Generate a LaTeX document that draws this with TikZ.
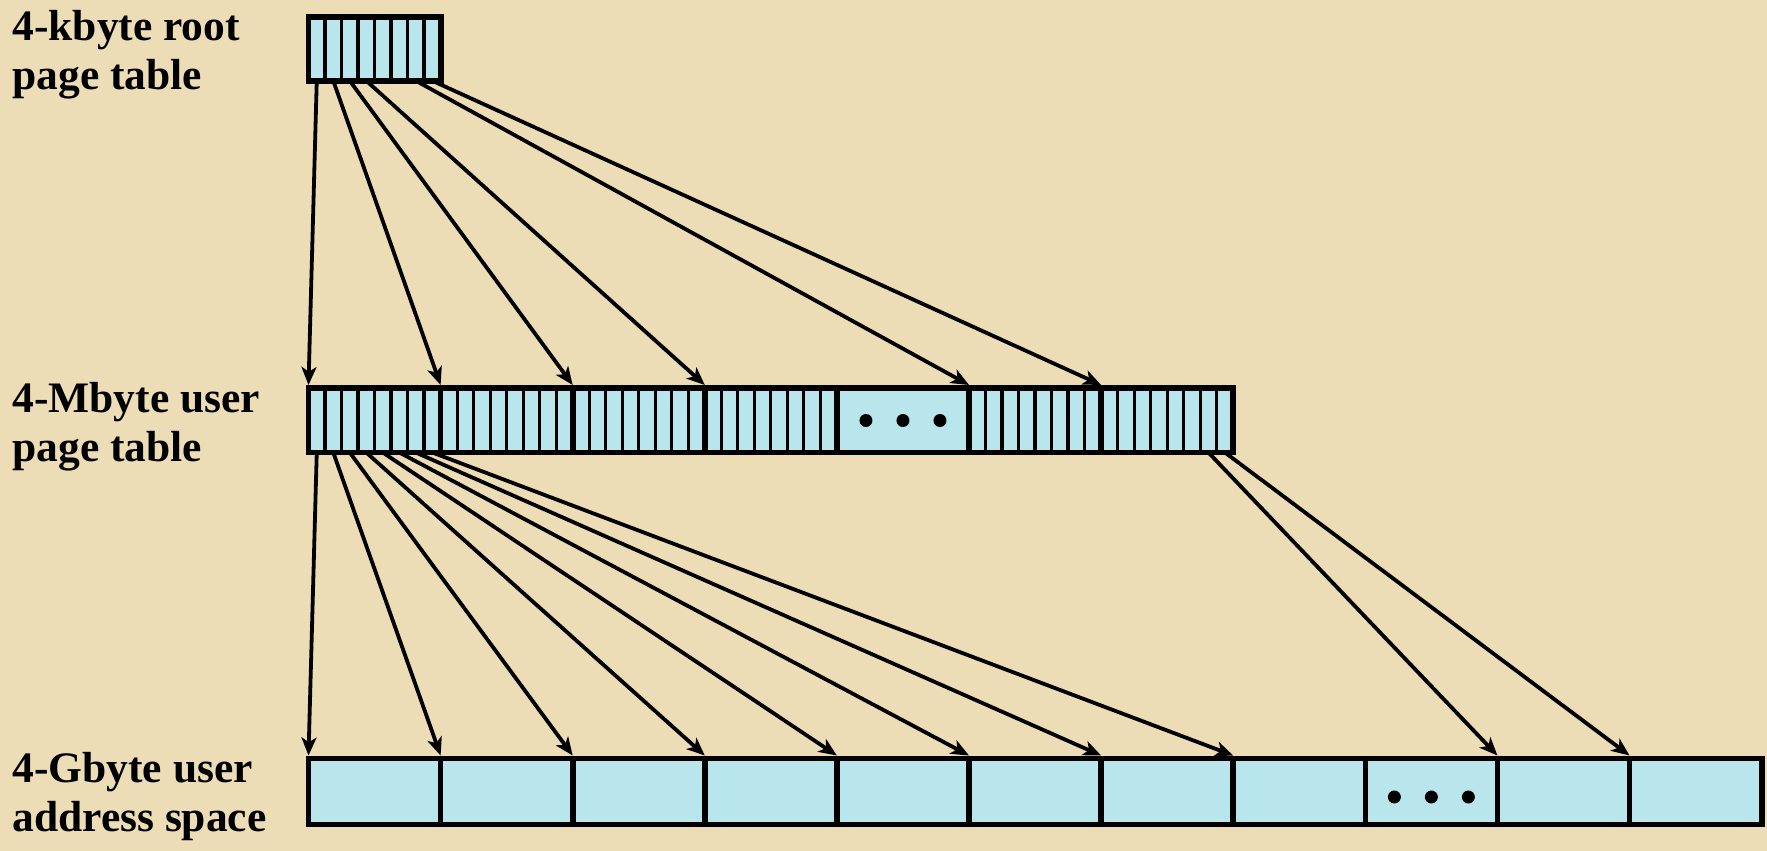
\documentclass[tikz,border=0pt]{standalone}
\usepackage{fontspec}
\setmainfont{Liberation Serif}
\usetikzlibrary{arrows.meta}
\definecolor{paper}{RGB}{237,221,182}
\definecolor{cellfill}{RGB}{184,230,236}
\begin{document}
\begin{tikzpicture}[x=0.5pt,y=-0.5pt,
  arr/.style={line width=1.9pt,-{Stealth[length=9pt,width=7.5pt,inset=2.4pt]}},
  thindiv/.style={line width=1.6pt},
  thickdiv/.style={line width=2.8pt},
  boxframe/.style={line width=2.9pt, line join=miter},
  lbl/.style={anchor=base west, inner sep=0pt, font=\fontsize{21.75pt}{24.5pt}\selectfont\bfseries},
  dotmark/.style={circle, fill=black, inner sep=0pt, minimum size=6.5pt}]
\pgfmathsetmacro{\W}{132.1}
\pgfmathsetmacro{\c}{\W/8}
\pgfmathsetmacro{\xo}{308.5}
\useasboundingbox (0,0) rectangle (1767,851);
\fill[paper] (0,0) rectangle (1767,851);

% labels
\node[lbl] (lroot) at (12,40) {\begin{tabular}[t]{@{}l@{}}4-kbyte root\\page table\end{tabular}};
\node[lbl] (luser) at (12,412) {\begin{tabular}[t]{@{}l@{}}4-Mbyte user\\page table\end{tabular}};
\node[lbl] (laddr) at (12,782) {\begin{tabular}[t]{@{}l@{}}4-Gbyte user\\address space\end{tabular}};

% root page table
\fill[cellfill] (\xo,17.2) rectangle ++(\W,63.6);
\foreach \i in {1,...,7} \draw[thindiv] ({\xo+\i*\c},17.2) -- ++(0,63.6);
\draw[boxframe] (\xo,17.2) rectangle ++(\W,63.6);

% user page table
\fill[cellfill] (\xo,387.8) rectangle ++({7*\W},64.7);
\foreach \g in {0,1,2,3,5,6} \foreach \i in {1,...,7}
  \draw[thindiv] ({\xo+\g*\W+\i*\c},387.8) -- ++(0,64.7);
\foreach \g in {1,...,6} \draw[thickdiv] ({\xo+\g*\W},387.8) -- ++(0,64.7);
\draw[boxframe] (\xo,387.8) rectangle ++({7*\W},64.7);
\foreach \j/\dx in {1/-37,2/0,3/37}
  \node[dotmark] (md\j) at ({\xo+4.5*\W+\dx},420.5) {};

% user address space
\fill[cellfill] (\xo,758.5) rectangle ++({11*\W},66);
\foreach \g in {1,...,10} \draw[thickdiv] ({\xo+\g*\W},758.5) -- ++(0,66);
\draw[boxframe] (\xo,758.5) rectangle ++({11*\W},66);
\foreach \j/\dx in {1/-37,2/0,3/37}
  \node[dotmark] (bd\j) at ({\xo+8.5*\W+\dx},797) {};

% connector end points
\foreach \i in {0,...,7} \coordinate (rs\i) at ({\xo+(\i+0.5)*\c},80.8);
\foreach \k in {0,...,6} \coordinate (mt\k) at ({\xo+\k*\W},385);
\foreach \i in {0,...,7} \coordinate (ms\i) at ({\xo+(\i+0.5)*\c},452.5);
\coordinate (ms14) at ({\xo+6*\W+6.5*\c},452.5);
\coordinate (ms15) at ({\xo+6*\W+7.5*\c},452.5);
\foreach \k in {0,...,10} \coordinate (bt\k) at ({\xo+\k*\W},755.5);

% arrows root -> user page table
\foreach \a/\b in {0/0,1/1,2/2,3/3,6/5,7/6} \draw[arr] (rs\a) -- (mt\b);
% arrows user page table -> address space
\foreach \i in {0,...,7} \draw[arr] (ms\i) -- (bt\i);
\draw[arr] (ms14) -- (bt9);
\draw[arr] (ms15) -- (bt10);
\end{tikzpicture}
\end{document}
